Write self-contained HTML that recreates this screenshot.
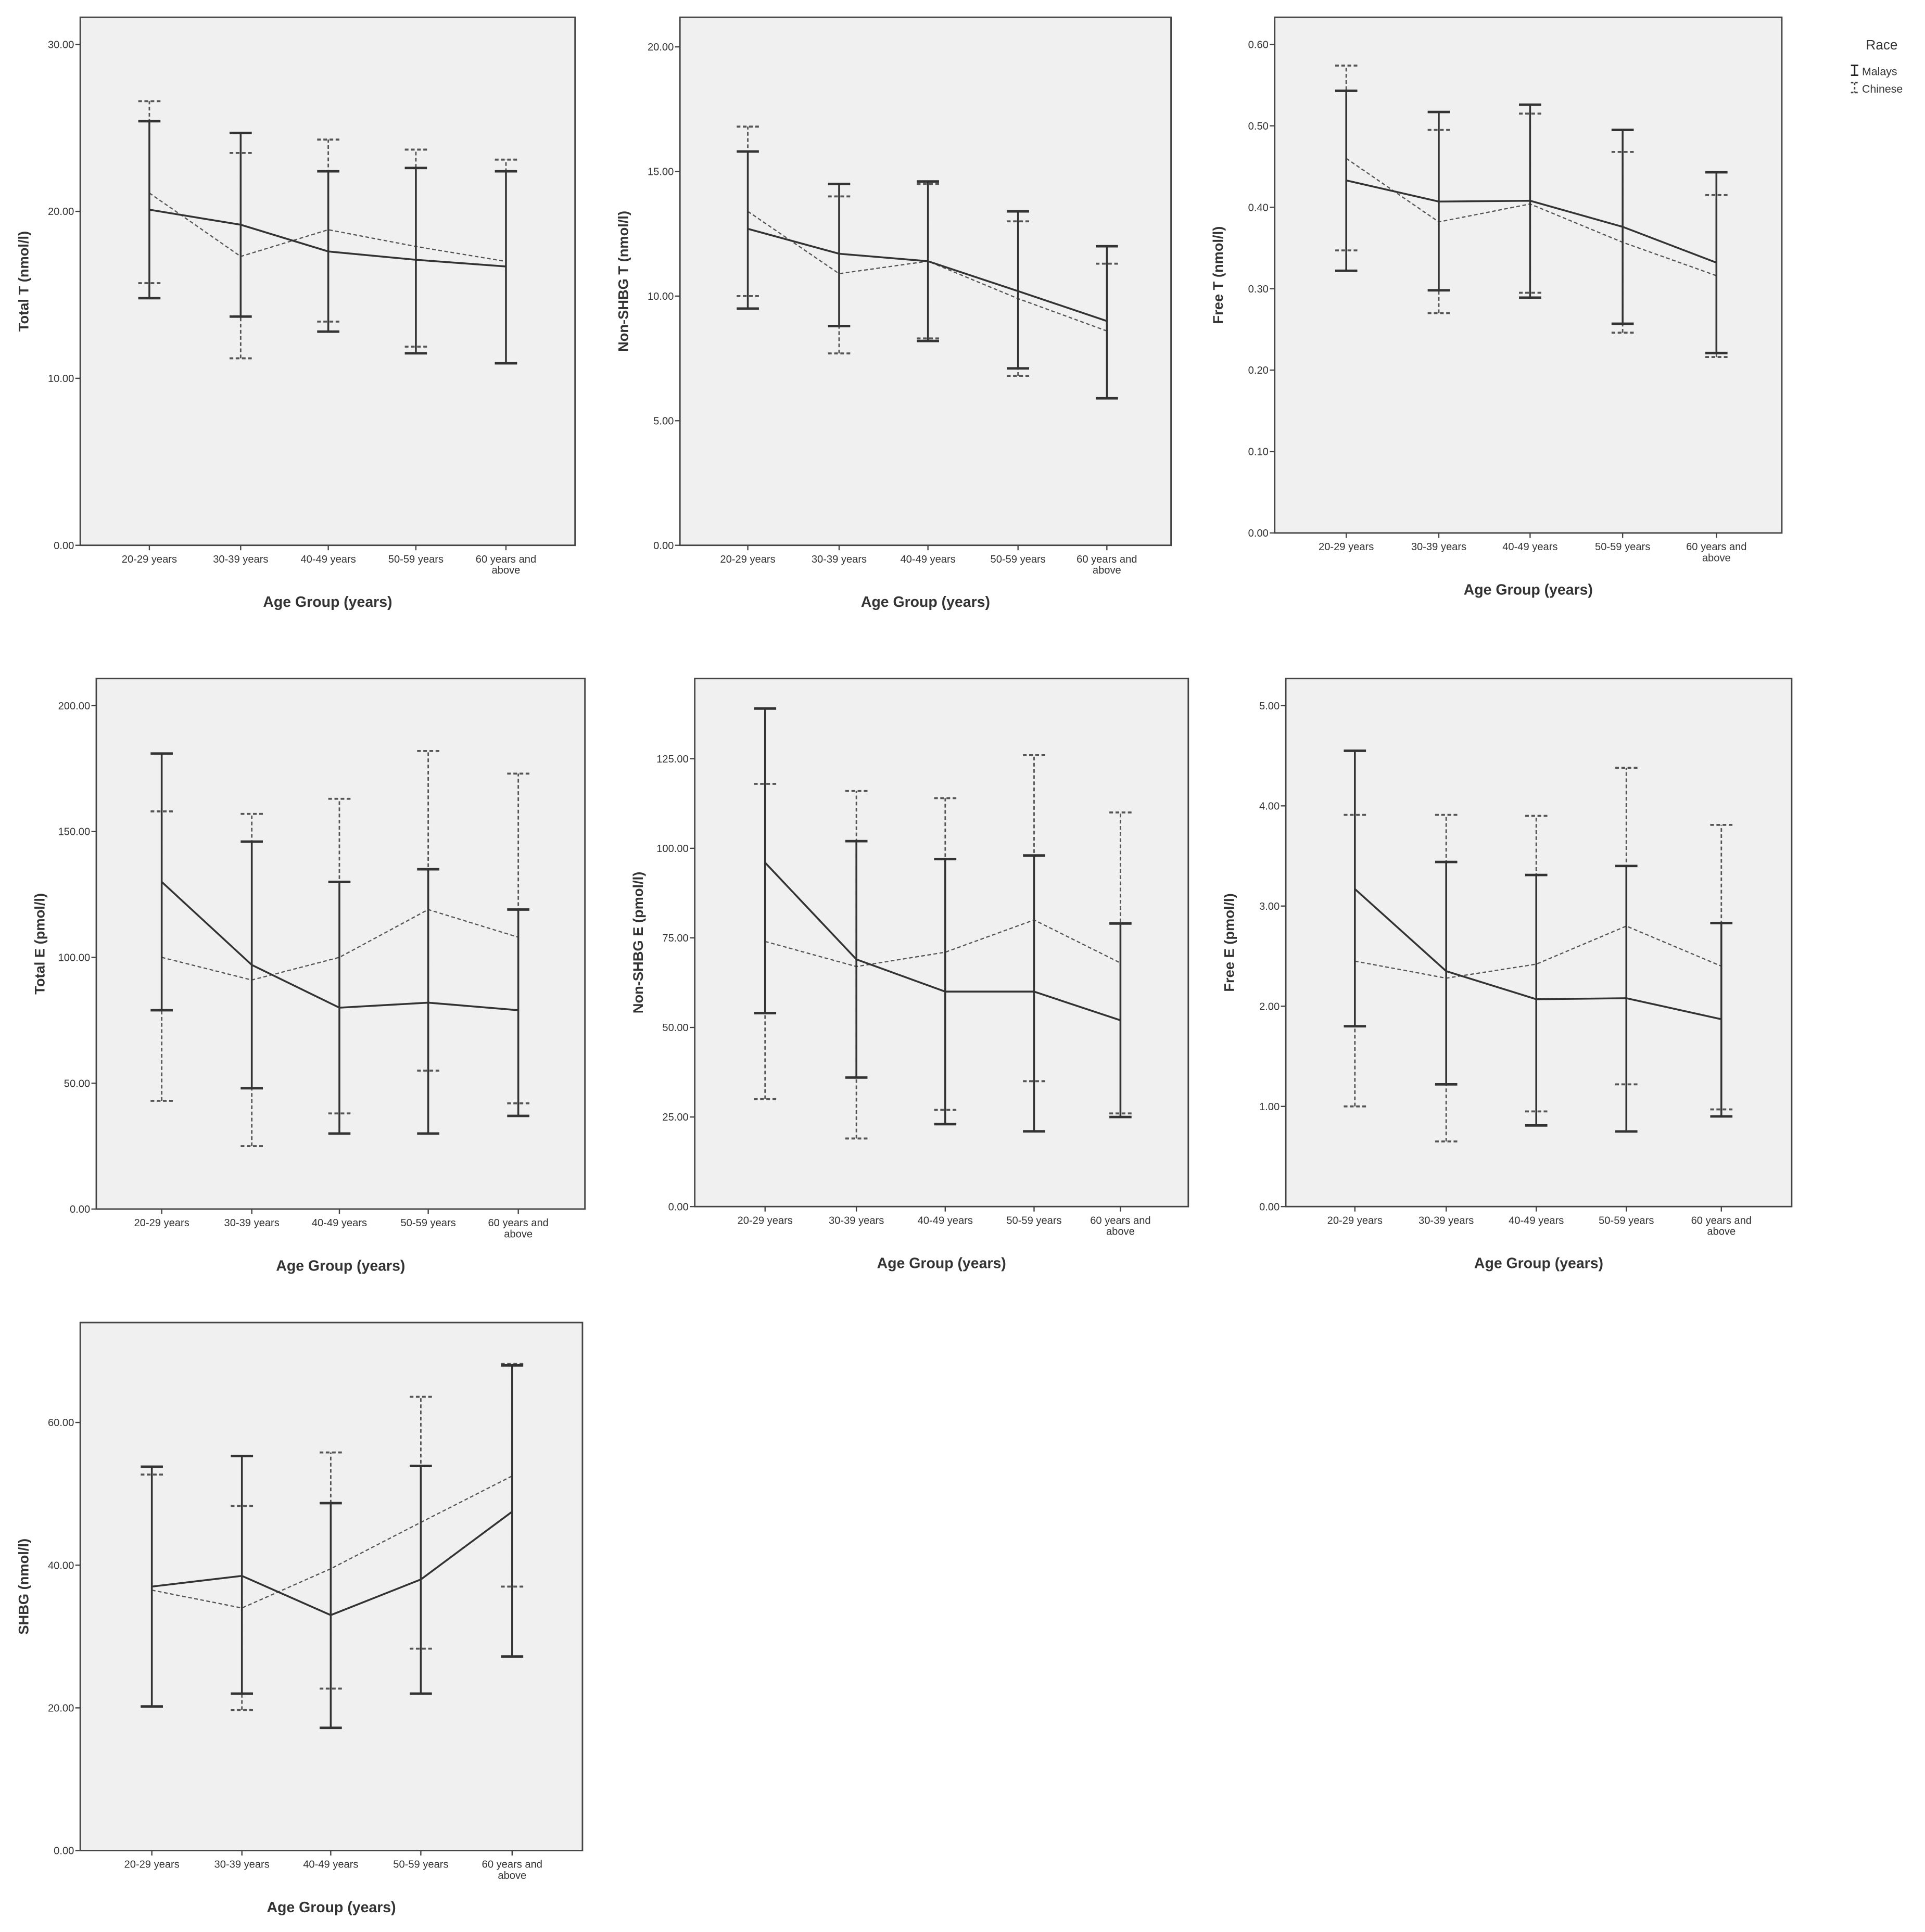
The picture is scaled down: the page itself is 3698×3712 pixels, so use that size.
<!DOCTYPE html>
<html><head><meta charset="utf-8"><title>Hormone levels by age group and race</title>
<style>html,body{margin:0;padding:0;background:#fff}svg{display:block}text{font-family:"Liberation Sans",Arial,sans-serif;fill:#333}</style>
</head><body>
<svg id="fig" width="3698" height="3712" viewBox="0 0 1560 1566" xmlns="http://www.w3.org/2000/svg">
<g>
<text x="1525" y="40" font-size="11" text-anchor="middle">Race</text>
<g><line x1="1503" y1="53" x2="1503" y2="61" stroke="#222" stroke-width="1.2"/><line x1="1500" y1="53" x2="1506" y2="53" stroke="#222" stroke-width="1.2"/><line x1="1500" y1="61" x2="1506" y2="61" stroke="#222" stroke-width="1.2"/><text x="1509" y="61" font-size="9">Malays</text></g>
<g><line x1="1503" y1="67" x2="1503" y2="75" stroke="#444" stroke-width="1.2" stroke-dasharray="2,1.5"/><line x1="1500" y1="67" x2="1506" y2="67" stroke="#444" stroke-width="1.2" stroke-dasharray="2,1.5"/><line x1="1500" y1="75" x2="1506" y2="75" stroke="#444" stroke-width="1.2" stroke-dasharray="2,1.5"/><text x="1509" y="75" font-size="9">Chinese</text></g>
</g>
</svg>
<script>
const categories = ["20-29 years","30-39 years","40-49 years","50-59 years","60 years and above"];

const totalTMalaysMean = [20.1,19.2,17.6,17.1,16.7];
const totalTMalaysLow  = [14.8,13.7,12.8,11.5,10.9];
const totalTMalaysHigh = [25.4,24.7,22.4,22.6,22.4];
const totalTChineseMean = [21.1,17.3,18.9,17.9,17.0];
const totalTChineseLow  = [15.7,11.2,13.4,11.9,10.9];
const totalTChineseHigh = [26.6,23.5,24.3,23.7,23.1];
const totalTTicks = [0,10,20,30];

const nonShbgTMalaysMean = [12.7,11.7,11.4,10.2,9.0];
const nonShbgTMalaysLow  = [9.5,8.8,8.2,7.1,5.9];
const nonShbgTMalaysHigh = [15.8,14.5,14.6,13.4,12.0];
const nonShbgTChineseMean = [13.4,10.9,11.4,9.9,8.6];
const nonShbgTChineseLow  = [10.0,7.7,8.3,6.8,5.9];
const nonShbgTChineseHigh = [16.8,14.0,14.5,13.0,11.3];
const nonShbgTTicks = [0,5,10,15,20];

const freeTMalaysMean = [0.433,0.407,0.408,0.376,0.332];
const freeTMalaysLow  = [0.322,0.298,0.289,0.257,0.221];
const freeTMalaysHigh = [0.543,0.517,0.526,0.495,0.443];
const freeTChineseMean = [0.460,0.382,0.404,0.357,0.316];
const freeTChineseLow  = [0.347,0.270,0.295,0.246,0.216];
const freeTChineseHigh = [0.574,0.495,0.515,0.468,0.415];
const freeTTicks = [0,0.1,0.2,0.3,0.4,0.5,0.6];

const totalEMalaysMean = [130,97,80,82,79];
const totalEMalaysLow  = [79,48,30,30,37];
const totalEMalaysHigh = [181,146,130,135,119];
const totalEChineseMean = [100,91,100,119,108];
const totalEChineseLow  = [43,25,38,55,42];
const totalEChineseHigh = [158,157,163,182,173];
const totalETicks = [0,50,100,150,200];

const nonShbgEMalaysMean = [96,69,60,60,52];
const nonShbgEMalaysLow  = [54,36,23,21,25];
const nonShbgEMalaysHigh = [139,102,97,98,79];
const nonShbgEChineseMean = [74,67,71,80,68];
const nonShbgEChineseLow  = [30,19,27,35,26];
const nonShbgEChineseHigh = [118,116,114,126,110];
const nonShbgETicks = [0,25,50,75,100,125];

const freeEMalaysMean = [3.17,2.35,2.07,2.08,1.87];
const freeEMalaysLow  = [1.80,1.22,0.81,0.75,0.90];
const freeEMalaysHigh = [4.55,3.44,3.31,3.40,2.83];
const freeEChineseMean = [2.45,2.28,2.42,2.80,2.40];
const freeEChineseLow  = [1.00,0.65,0.95,1.22,0.97];
const freeEChineseHigh = [3.91,3.91,3.90,4.38,3.81];
const freeETicks = [0,1,2,3,4,5];

const shbgMalaysMean = [37,38.5,33,38,47.5];
const shbgMalaysLow  = [20.2,22,17.2,22,27.2];
const shbgMalaysHigh = [53.8,55.3,48.7,53.9,68];
const shbgChineseMean = [36.5,34,39.5,46,52.5];
const shbgChineseLow  = [20.2,19.7,22.7,28.3,37];
const shbgChineseHigh = [52.7,48.3,55.8,63.6,68.2];
const shbgTicks = [0,20,40,60];

const NS = "http://www.w3.org/2000/svg";
const svg = document.getElementById("fig");
function mk(tag, attrs, parent){ const e=document.createElementNS(NS,tag); for(const k in attrs) e.setAttribute(k,attrs[k]); parent.appendChild(e); return e; }

function panel(cfg){
  const g = mk("g",{},svg);
  
  
  const {x0,x1,y0,y1,vmax,catX} = cfg;
  const y = v => y1 - (v/vmax)*(y1-y0Axis);
  const y0Axis = cfg.topTickY;
  const bg = mk("rect",{x:x0,y:y0,width:x1-x0,height:y1-y0,fill:"#f0f0f0",stroke:"#444","stroke-width":1.2},g);
  
  
  cfg.ticks.forEach(t=>{
    mk("line",{x1:x0-4,x2:x0,y1:y(t),y2:y(t),stroke:"#444","stroke-width":1},g);
    const tx = mk("text",{x:x0-5,y:y(t)+3,"font-size":8.5,"text-anchor":"end"},g);
    tx.textContent = t.toFixed(2);
    
    
  });
  categories.forEach((c,i)=>{
    const cx = catX[i];
    mk("line",{x1:cx,x2:cx,y1:y1,y2:y1+4,stroke:"#444","stroke-width":1},g);
    const tx = mk("text",{x:cx,y:y1+14,"font-size":8.5,"text-anchor":"middle"},g);
    
    
    if(c==="60 years and above"){
      mk("tspan",{x:cx,dy:0},tx).textContent="60 years and";
      mk("tspan",{x:cx,dy:9},tx).textContent="above";
    } else tx.textContent=c;
  });
  const xt = mk("text",{x:(x0+x1)/2,y:y1+50,"font-size":12,"font-weight":"bold","text-anchor":"middle"},g);
  xt.textContent="Age Group (years)";
  
  
  const yt = mk("text",{x:0,y:0,"font-size":11.5,"font-weight":"bold","text-anchor":"middle",transform:`translate(${x0-42},${(y0+y1)/2}) rotate(-90)`},g);
  yt.textContent=cfg.ytitle;
  
  
  const series = [
    {name:"chinese",mean:cfg.cm,lo:cfg.cl,hi:cfg.ch,stroke:"#555",dash:"3,2",w:1,bw:1.2,capw:1.6},
    {name:"malays",mean:cfg.mm,lo:cfg.ml,hi:cfg.mh,stroke:"#333",dash:"",w:1.5,bw:1.5,capw:2}
  ];
  series.forEach(s=>{
    const sg = mk("g",{},g);
    
    
    s.mean.forEach((m,i)=>{
      const cx=catX[i];
      const eb = mk("g",{stroke:s.stroke,"stroke-dasharray":s.dash},sg);
      
      
      mk("line",{x1:cx,x2:cx,y1:y(s.lo[i]),y2:y(s.hi[i]),"stroke-width":s.bw},eb);
      mk("line",{x1:cx-9,x2:cx+9,y1:y(s.lo[i]),y2:y(s.lo[i]),"stroke-width":s.capw},eb);
      mk("line",{x1:cx-9,x2:cx+9,y1:y(s.hi[i]),y2:y(s.hi[i]),"stroke-width":s.capw},eb);
    });
    const pl = mk("polyline",{points:s.mean.map((m,i)=>catX[i]+","+y(m)).join(" "),fill:"none",stroke:s.stroke,"stroke-width":s.w,"stroke-dasharray":s.dash},sg);
    
    
  });
}

panel({name:"total-t-chart",x0:65,x1:466,y0:14,y1:442,topTickY:36,vmax:30,ticks:totalTTicks,catX:[121,195,266,337,410],ytitle:"Total T (nmol/l)",
  mm:totalTMalaysMean,ml:totalTMalaysLow,mh:totalTMalaysHigh,cm:totalTChineseMean,cl:totalTChineseLow,ch:totalTChineseHigh});
panel({name:"non-shbg-t-chart",x0:551,x1:949,y0:14,y1:442,topTickY:38,vmax:20,ticks:nonShbgTTicks,catX:[606,680,752,825,897],ytitle:"Non-SHBG T (nmol/l)",
  mm:nonShbgTMalaysMean,ml:nonShbgTMalaysLow,mh:nonShbgTMalaysHigh,cm:nonShbgTChineseMean,cl:nonShbgTChineseLow,ch:nonShbgTChineseHigh});
panel({name:"free-t-chart",x0:1033,x1:1444,y0:14,y1:432,topTickY:36,vmax:0.6,ticks:freeTTicks,catX:[1091,1166,1240,1315,1391],ytitle:"Free T (nmol/l)",
  mm:freeTMalaysMean,ml:freeTMalaysLow,mh:freeTMalaysHigh,cm:freeTChineseMean,cl:freeTChineseLow,ch:freeTChineseHigh});
panel({name:"total-e-chart",x0:78,x1:474,y0:550,y1:980,topTickY:572,vmax:200,ticks:totalETicks,catX:[131,204,275,347,420],ytitle:"Total E (pmol/l)",
  mm:totalEMalaysMean,ml:totalEMalaysLow,mh:totalEMalaysHigh,cm:totalEChineseMean,cl:totalEChineseLow,ch:totalEChineseHigh});
panel({name:"non-shbg-e-chart",x0:563,x1:963,y0:550,y1:978,topTickY:615,vmax:125,ticks:nonShbgETicks,catX:[620,694,766,838,908],ytitle:"Non-SHBG E (pmol/l)",
  mm:nonShbgEMalaysMean,ml:nonShbgEMalaysLow,mh:nonShbgEMalaysHigh,cm:nonShbgEChineseMean,cl:nonShbgEChineseLow,ch:nonShbgEChineseHigh});
panel({name:"free-e-chart",x0:1042,x1:1452,y0:550,y1:978,topTickY:572,vmax:5,ticks:freeETicks,catX:[1098,1172,1245,1318,1395],ytitle:"Free E (pmol/l)",
  mm:freeEMalaysMean,ml:freeEMalaysLow,mh:freeEMalaysHigh,cm:freeEChineseMean,cl:freeEChineseLow,ch:freeEChineseHigh});
panel({name:"shbg-chart",x0:65,x1:472,y0:1072,y1:1500,topTickY:1153,vmax:60,ticks:shbgTicks,catX:[123,196,268,341,415],ytitle:"SHBG (nmol/l)",
  mm:shbgMalaysMean,ml:shbgMalaysLow,mh:shbgMalaysHigh,cm:shbgChineseMean,cl:shbgChineseLow,ch:shbgChineseHigh});
</script>
</body></html>
